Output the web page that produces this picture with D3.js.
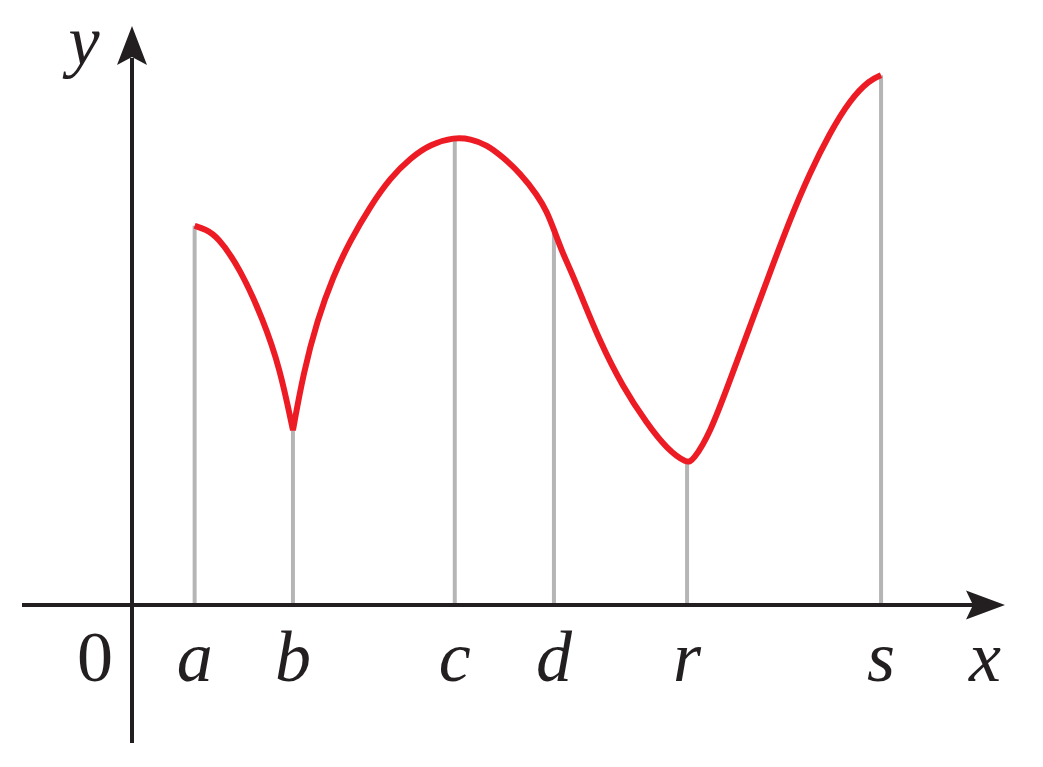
<!DOCTYPE html>
<html>
<head>
<meta charset="utf-8">
<script src="https://cdn.jsdelivr.net/npm/d3@7"></script>
<style>
  html, body { margin: 0; padding: 0; background: #ffffff; }
  svg { display: block; }
</style>
</head>
<body>
<script>
// ---- data (units) ----
const markerLabels = ["a", "b", "c", "d", "r", "s"];
const markerX = [7.2, 18.5, 37.1, 48.5, 63.8, 86.1];
const markerY = [65.5, 30.2, 80.8, 64.3, 24.5, 91.5];

// branch from a to the cusp at b
const curve1X = [7.2, 8.4, 9.8, 12.4, 15.1, 17.0, 18.5];
const curve1Y = [65.5, 64.9, 63.7, 58.2, 49.2, 40.9, 30.2];

// branch from the cusp at b to s
const curve2X = [18.5, 19.7, 21.3, 23.1, 25.1, 27.4, 29.7, 32.0, 34.3, 37.1, 38.9, 40.8, 42.6, 44.6, 46.6, 47.7, 48.5, 49.5, 50.3, 51.5, 53.8, 56.4, 59.2, 61.5, 63.8, 64.5, 66.4, 68.7, 71.0, 73.3, 75.6, 77.9, 80.2, 82.5, 84.8, 86.1];
const curve2Y = [30.2, 40.1, 49.2, 56.7, 63.0, 68.9, 73.8, 77.2, 79.6, 80.8, 80.5, 79.5, 77.4, 74.6, 70.8, 67.9, 64.8, 60.8, 58.2, 53.9, 45.4, 37.7, 31.3, 26.9, 24.4, 25.0, 29.5, 38.7, 48.0, 57.3, 66.5, 74.6, 81.5, 87.2, 90.7, 91.5];

const originLabel = "0";
const xAxisLabel = "x";
const yAxisLabel = "y";

// ---- layout ----
const W = 1043, H = 767;
const ink = "#231f20";
const red = "#ed1c24";
const grey = "#b5b5b5";
const fontFam = "'Liberation Serif', 'Times New Roman', serif";

const x = d3.scaleLinear().domain([0, 100]).range([132, 1002]);
const y = d3.scaleLinear().domain([0, 100]).range([605, 26]);

const svg = d3.select("body").append("svg")
  .attr("width", W).attr("height", H);

const x0 = x(0), y0 = y(0);

// axes
svg.append("line")
  .attr("x1", 22).attr("x2", 975)
  .attr("y1", y0).attr("y2", y0)
  .attr("stroke", ink).attr("stroke-width", 4);
svg.append("line")
  .attr("x1", x0).attr("x2", x0)
  .attr("y1", 743).attr("y2", 58)
  .attr("stroke", ink).attr("stroke-width", 4);

// arrowheads
const xTip = 1005, yTip = 26;
svg.append("path")
  .attr("d", `M${xTip},${y0} L${xTip - 39},${y0 - 14.5} L${xTip - 32},${y0} L${xTip - 39},${y0 + 14.5} Z`)
  .attr("fill", ink);
svg.append("path")
  .attr("d", `M${x0},${yTip} L${x0 - 15},${yTip + 39} L${x0},${yTip + 31} L${x0 + 15},${yTip + 39} Z`)
  .attr("fill", ink);

// grey verticals
const markers = markerLabels.map((l, i) => ({ label: l, x: markerX[i], y: markerY[i] }));
svg.append("g").selectAll("line")
  .data(markers).join("line")
  .attr("x1", d => x(d.x)).attr("x2", d => x(d.x))
  .attr("y1", y0 - 2).attr("y2", d => y(d.y))
  .attr("stroke", grey).attr("stroke-width", 4);

// red curve (smoothed through the read points; cusp at b kept)
const line = d3.line().x(d => x(d[0])).y(d => y(d[1])).curve(d3.curveBasis);
const seg1 = curve1X.map((v, i) => [v, curve1Y[i]]);
const seg2 = curve2X.map((v, i) => [v, curve2Y[i]]);
const p1 = line(seg1);
const p2 = line(seg2).replace(/^M[^CL]*/, "");
svg.append("path")
  .attr("d", p1 + p2)
  .attr("fill", "none")
  .attr("stroke", red)
  .attr("stroke-width", 6)
  .attr("stroke-linejoin", "miter")
  .attr("stroke-miterlimit", 4)
  .attr("stroke-linecap", "butt");

// labels
const labelBase = 681;
const fs = 72;
svg.append("g").selectAll("text")
  .data(markers).join("text")
  .attr("x", d => x(d.x))
  .attr("y", labelBase)
  .attr("text-anchor", "middle")
  .attr("font-family", fontFam)
  .attr("font-style", "italic")
  .attr("font-size", fs)
  .attr("fill", ink)
  .text(d => d.label);

svg.append("text")
  .attr("x", 95).attr("y", labelBase)
  .attr("text-anchor", "middle")
  .attr("font-family", fontFam)
  .attr("font-size", fs)
  .attr("fill", ink)
  .text(originLabel);

svg.append("text")
  .attr("x", 985).attr("y", labelBase)
  .attr("text-anchor", "middle")
  .attr("font-family", fontFam)
  .attr("font-style", "italic")
  .attr("font-size", fs)
  .attr("fill", ink)
  .text(xAxisLabel);

svg.append("text")
  .attr("x", 84).attr("y", 64)
  .attr("text-anchor", "middle")
  .attr("font-family", fontFam)
  .attr("font-style", "italic")
  .attr("font-size", 70)
  .attr("fill", ink)
  .text(yAxisLabel);
</script>
</body>
</html>
